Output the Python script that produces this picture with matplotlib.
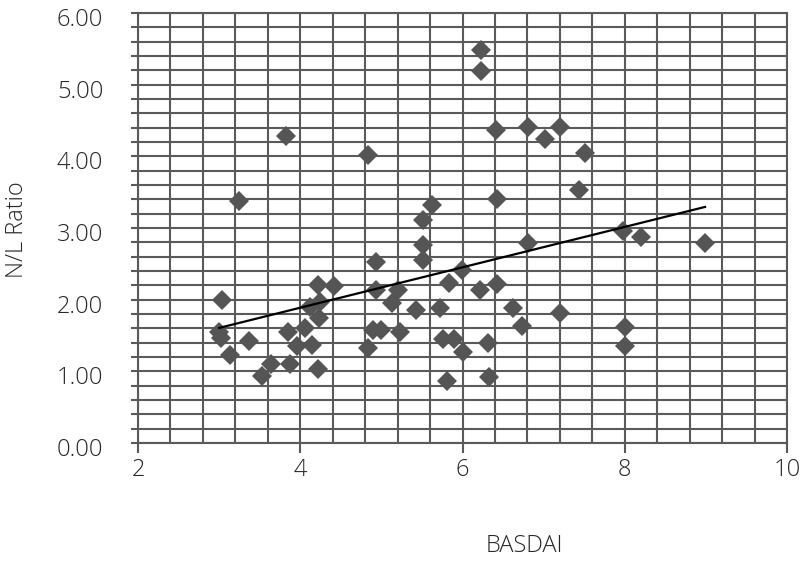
import matplotlib
matplotlib.use('Agg')
import matplotlib.pyplot as plt
import numpy as np
from matplotlib.ticker import MultipleLocator, FormatStrFormatter
from matplotlib.transforms import ScaledTranslation

basdai = [3.04, 3.00, 3.02, 3.14, 3.25, 3.37, 3.53, 3.64, 3.83, 3.85, 3.87, 3.96,
          4.06, 4.12, 4.24, 4.23, 4.15, 4.22, 4.42, 4.22, 4.83, 4.83, 4.93, 4.93,
          4.90, 5.00, 5.13, 5.21, 5.23, 5.43, 5.51, 5.62, 5.51, 5.51, 5.72, 5.83,
          5.76, 5.90, 5.81, 5.99, 6.01, 6.23, 6.23, 6.41, 6.42, 6.81, 7.02, 7.20,
          7.51, 7.44, 6.81, 6.21, 6.43, 6.62, 6.73, 7.20, 6.32, 6.33, 7.98, 8.20,
          8.99, 8.00, 8.00]
nl_ratio = [2.00, 1.55, 1.46, 1.23, 3.38, 1.43, 0.93, 1.10, 4.28, 1.55, 1.10, 1.35,
            1.60, 1.90, 1.97, 1.74, 1.37, 2.20, 2.19, 1.03, 4.02, 1.32, 2.52, 2.14,
            1.58, 1.58, 1.96, 2.14, 1.55, 1.85, 3.11, 3.32, 2.76, 2.55, 1.89, 2.23,
            1.45, 1.45, 0.87, 2.41, 1.27, 5.48, 5.19, 4.37, 3.41, 4.41, 4.24, 4.41,
            4.05, 3.53, 2.79, 2.14, 2.22, 1.89, 1.63, 1.81, 1.40, 0.92, 2.96, 2.87,
            2.79, 1.62, 1.35]
x_ticks = [2, 4, 6, 8, 10]
y_ticks = [0, 1, 2, 3, 4, 5, 6]
x_label = "BASDAI"
y_label = "N/L Ratio"

plt.rcParams['font.family'] = ['Open Sans', 'DejaVu Sans']
grid_c = '#5a5a5a'
text_c = '#262626'
fs = 17

fig = plt.figure(figsize=(8.01, 5.61), dpi=100)
ax = fig.add_axes([138/801, 1-443/561, (787-138)/801, (443-13)/561])

ax.set_xlim(x_ticks[0], x_ticks[-1])
ax.set_ylim(y_ticks[0], y_ticks[-1])
ax.set_xticks(x_ticks)
ax.set_yticks(y_ticks)
ax.xaxis.set_minor_locator(MultipleLocator(0.4))
ax.yaxis.set_minor_locator(MultipleLocator(0.2))
ax.yaxis.set_major_formatter(FormatStrFormatter('%.2f'))

ax.grid(True, which='both', color=grid_c, linewidth=1.5)
ax.set_axisbelow(True)
for s in ax.spines.values():
    s.set_color(grid_c)
    s.set_linewidth(1.5)

ax.tick_params(axis='x', which='major', length=7, width=1.5, color=grid_c,
               pad=4, labelsize=fs, labelcolor=text_c)
ax.tick_params(axis='x', which='minor', length=0)
ax.tick_params(axis='y', which='both', length=5, width=1.5, color=grid_c,
               pad=20, labelsize=fs, labelcolor=text_c)
shift = ScaledTranslation(0, -0.04, fig.dpi_scale_trans)
for lab in ax.get_yticklabels():
    lab.set_fontweight('light')
    lab.set_transform(lab.get_transform() + shift)
for lab in ax.get_xticklabels():
    lab.set_fontweight('light')

ax.plot(basdai, nl_ratio, linestyle='none', marker='D', markersize=10,
        markeredgewidth=0, color='#555555', zorder=3)

coef = np.polyfit(basdai, nl_ratio, 1)
tx = np.array([min(basdai), max(basdai)])
ax.plot(tx, np.polyval(coef, tx), color='black', linewidth=1.6, zorder=4)

fig.text(524/801, 1-546/561, x_label, ha='center', va='center', fontsize=fs,
         color=text_c, fontweight='light')
fig.text(17/801, 1-230/561, y_label, ha='center', va='center', rotation=90,
         fontsize=fs, color=text_c, fontweight='light')

fig.savefig('out.png', dpi=100)
